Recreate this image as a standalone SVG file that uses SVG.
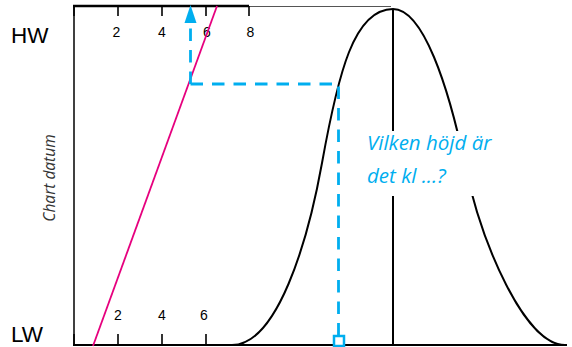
<svg xmlns="http://www.w3.org/2000/svg" width="572" height="347" viewBox="0 0 572 347">
<style>
.ax{stroke:#000;stroke-width:2;fill:none}
.tick{stroke:#000;stroke-width:1.6}
.num{font-family:"Liberation Sans",Arial,sans-serif;font-size:14px;fill:#000;text-anchor:middle}
.big{font-family:"Liberation Sans",Arial,sans-serif;font-size:22.5px;fill:#000}
.dash{stroke:#00AEEF;stroke-width:2.8;fill:none;stroke-dasharray:12.5 9}
.blue{fill:#00AEEF;font-family:"Open Sans","DejaVu Sans",sans-serif;font-style:italic;font-size:20.5px}
</style>
<rect width="572" height="347" fill="#fff"/>
<g id="axes">
<line x1="74" y1="6" x2="74" y2="345" stroke="#000" stroke-width="1.5"/>
<line x1="73" y1="6" x2="249" y2="6" stroke="#000" stroke-width="2.4"/>
<line x1="249" y1="6.5" x2="391" y2="6.5" stroke="#555" stroke-width="1.2"/>
<line x1="73" y1="345" x2="567" y2="345" stroke="#000" stroke-width="2.2"/>
<line class="tick" x1="74" y1="6" x2="74" y2="16"/>
<line class="tick" x1="118" y1="6" x2="118" y2="16"/>
<line class="tick" x1="162" y1="6" x2="162" y2="16"/>
<line class="tick" x1="206" y1="6" x2="206" y2="16"/>
<line class="tick" x1="249" y1="6" x2="249" y2="16"/>
<line class="tick" x1="74" y1="345" x2="74" y2="334"/>
<line class="tick" x1="118" y1="345" x2="118" y2="334"/>
<line class="tick" x1="162" y1="345" x2="162" y2="334"/>
<line class="tick" x1="206" y1="345" x2="206" y2="334"/>
<text class="num" x="116.5" y="37">2</text>
<text class="num" x="162" y="37">4</text>
<text class="num" x="207" y="37">6</text>
<text class="num" x="250.5" y="37">8</text>
<text class="num" x="118" y="320">2</text>
<text class="num" x="162" y="320">4</text>
<text class="num" x="204" y="320">6</text>
</g>
<g id="label-hw"><text class="big" x="11" y="43">HW</text></g>
<g id="label-lw"><text class="big" x="11" y="342">LW</text></g>
<g id="label-chart-datum"><text x="0" y="0" transform="translate(55,178) rotate(-90)" text-anchor="middle" font-family="'Open Sans','DejaVu Sans',sans-serif" font-style="italic" font-size="15.5" fill="#333">Chart datum</text></g>
<g id="tide-curve">
<line x1="393" y1="9" x2="393" y2="345" stroke="#000" stroke-width="2"/>
<path fill="none" stroke="#000" stroke-width="2" d="M232,345 C277,345 307.6,243 322,163 C338.2,73 354,9 393,9 C423,9 448.2,85 465,165 C481.8,245 525,345 565,345"/>
</g>
<g id="rate-line"><line x1="93" y1="346" x2="217" y2="6" stroke="#E6007E" stroke-width="1.8"/></g>
<g id="connectors">
<path class="dash" d="M190.5,84 V22"/>
<polygon points="190.5,5 184.5,23 196.5,23" fill="#00AEEF"/>
<path class="dash" d="M190.5,84 H338.5 V336"/>
<rect x="334" y="336" width="10" height="10" fill="#fff" stroke="#00AEEF" stroke-width="2.5"/>
</g>
<g id="question">
<rect x="346" y="131" width="132" height="65" fill="#fff"/>
<text class="blue" x="367" y="150">Vilken höjd är</text>
<text class="blue" x="367" y="183">det kl ...?</text>
</g>
</svg>
